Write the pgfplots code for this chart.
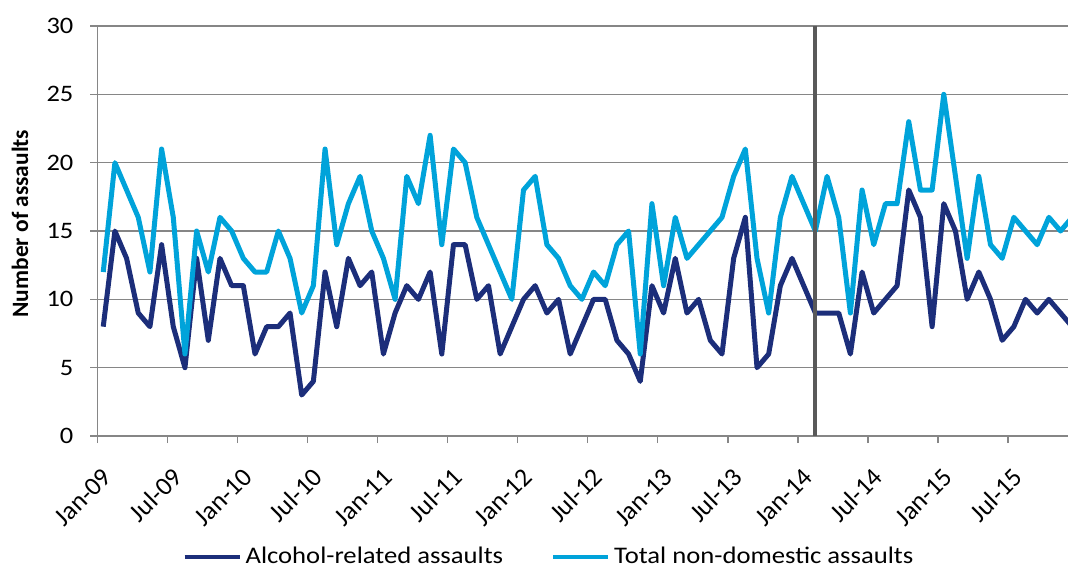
\documentclass[border=0pt]{standalone}
\usepackage{fontspec}
\setmainfont{Carlito}
\newfontfamily\stretchfont{Carlito}[FakeStretch=1.12]
\usepackage{pgfplots}
\usepackage{pgfplotstable}
\pgfplotsset{compat=1.18}
\definecolor{navyA}{HTML}{1C2E7A}
\definecolor{cyanT}{HTML}{00A3DA}
\definecolor{gridG}{HTML}{868686}
\definecolor{vlineG}{HTML}{595959}

\pgfplotstableread{
x a t
0.5 8 12
1.5 15 20
2.5 13 18
3.5 9 16
4.5 8 12
5.5 14 21
6.5 8 16
7.5 5 6
8.5 13 15
9.5 7 12
10.5 13 16
11.5 11 15
12.5 11 13
13.5 6 12
14.5 8 12
15.5 8 15
16.5 9 13
17.5 3 9
18.5 4 11
19.5 12 21
20.5 8 14
21.5 13 17
22.5 11 19
23.5 12 15
24.5 6 13
25.5 9 10
26.5 11 19
27.5 10 17
28.5 12 22
29.5 6 14
30.5 14 21
31.5 14 20
32.5 10 16
33.5 11 14
34.5 6 12
35.5 8 10
36.5 10 18
37.5 11 19
38.5 9 14
39.5 10 13
40.5 6 11
41.5 8 10
42.5 10 12
43.5 10 11
44.5 7 14
45.5 6 15
46.5 4 6
47.5 11 17
48.5 9 11
49.5 13 16
50.5 9 13
51.5 10 14
52.5 7 15
53.5 6 16
54.5 13 19
55.5 16 21
56.5 5 13
57.5 6 9
58.5 11 16
59.5 13 19
60.5 11 17
61.5 9 15
62.5 9 19
63.5 9 16
64.5 6 9
65.5 12 18
66.5 9 14
67.5 10 17
68.5 11 17
69.5 18 23
70.5 16 18
71.5 8 18
72.5 17 25
73.5 15 19
74.5 10 13
75.5 12 19
76.5 10 14
77.5 7 13
78.5 8 16
79.5 10 15
80.5 9 14
81.5 10 16
82.5 9 15
83.5 8 16
}\datatable

\begin{document}
\begin{tikzpicture}
\begin{axis}[
  scale only axis,
  width=485.3pt, height=205pt,
  xmin=0, xmax=83.14, ymin=0, ymax=30,
  axis x line*=bottom, axis y line*=left,
  axis line style={gridG, line width=0.7pt, -},
  tick align=outside,
  major tick length=3.5pt,
  tick style={gridG, line width=0.7pt},
  xtick={0,6,...,78},
  xticklabels={Jan-09,Jul-09,Jan-10,Jul-10,Jan-11,Jul-11,Jan-12,Jul-12,Jan-13,Jul-13,Jan-14,Jul-14,Jan-15,Jul-15},
  ytick={0,5,...,30},
  ymajorgrids,
  grid style={gridG, line width=0.7pt},
  /pgf/number format/assume math mode=true,
  yticklabel style={font=\stretchfont\fontsize{11.8}{14}\selectfont, xshift=-5pt},
  xticklabel style={font=\fontsize{13}{15}\selectfont, xshift=7.5pt, yshift=-12.5pt, rotate=45, anchor=east},
  ylabel={Number of assaults},
  ylabel style={at={(axis description cs:-0.0797,0.518)}, anchor=center, font=\fontsize{11.7}{14}\selectfont\bfseries},
  legend columns=2,
  legend style={draw=none, at={(axis description cs:0.4663,-0.295)}, anchor=center,
    font=\stretchfont\fontsize{11.9}{14}\selectfont,
    /tikz/every even column/.append style={column sep=22pt}},
  legend image code/.code={\draw[#1, line width=2pt] (0pt,0pt) -- (27.5pt,0pt);},
  line join=round,
]
\addplot[navyA, line width=2.5pt] table[x=x, y=a] {\datatable};
\addlegendentry{Alcohol-related assaults}
\addplot[cyanT, line width=2.5pt] table[x=x, y=t] {\datatable};
\addlegendentry{Total non-domestic assaults}
\addplot[vlineG, line width=2pt, forget plot] coordinates {(61.5,0) (61.5,30)};
\end{axis}
\pgfresetboundingbox
\useasboundingbox (-48.7pt,-66.5pt) rectangle (485.3pt,218pt);
\end{tikzpicture}
\end{document}
